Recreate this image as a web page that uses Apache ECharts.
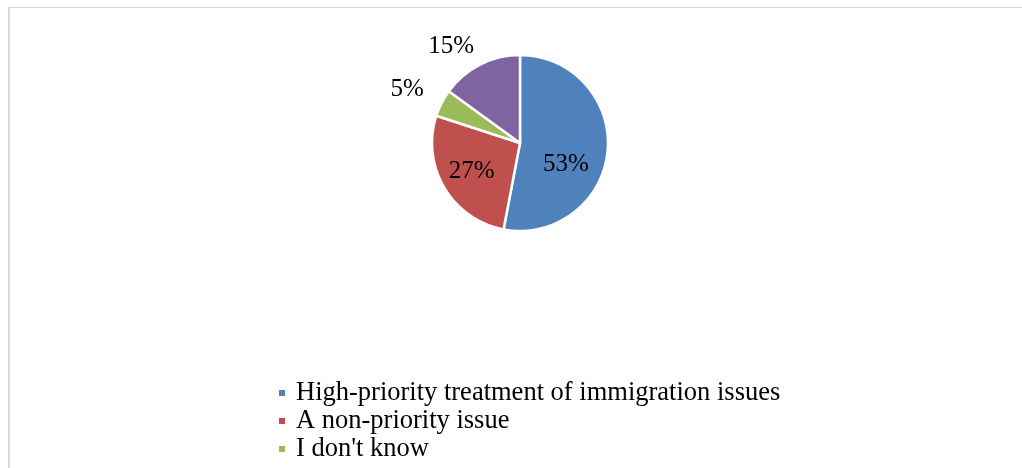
<!DOCTYPE html>
<html>
<head>
<meta charset="utf-8">
<script src="https://cdn.jsdelivr.net/npm/echarts@6/dist/echarts.min.js"></script>
<style>
  html, body { margin: 0; padding: 0; background: #fff; }
  #wrap { position: relative; width: 1022px; height: 468px; overflow: hidden; }
  #frame { position: absolute; left: 8px; top: 7px; width: 1030px; height: 480px;
           border-top: 1px solid #d9d9d9; border-left: 2px solid #d9d9d9; box-sizing: border-box; }
  #chart { position: absolute; left: 0; top: 0; width: 1022px; height: 468px; }
</style>
</head>
<body>
<div id="wrap">
  <div id="frame"></div>
  <div id="chart"></div>
</div>
<script>
const categories = [
  "High-priority treatment of immigration issues",
  "A non-priority issue",
  "I don't know",
  "No answer"
];
const values = [53, 27, 5, 15];
const colors = ["#4F81BD", "#C0504D", "#9BBB59", "#8064A2"];
const labelPlacement = ["inside", "inside", "outside", "outside"];
// legend entries visible in the picture (the fourth is cut off by the frame)
const legendEntries = categories.slice(0, 3);

const font = "'Liberation Serif', 'Times New Roman', serif";
const labelOffsets = [[-1, 17], [-8, 5], [0, -5], [4, 1]];
const lineLengths = [0, 0, 20, 22];

const chart = echarts.init(document.getElementById('chart'), null, { renderer: 'canvas' });
const data = categories.map((name, i) => ({
  name: name,
  value: values[i],
  itemStyle: { color: colors[i] },
  label: {
    position: labelPlacement[i],
    offset: labelOffsets[i]
  },
  labelLine: { show: false, length: lineLengths[i], length2: 0 }
}));

chart.setOption({
  animation: false,
  backgroundColor: 'transparent',
  legend: {
    orient: 'vertical',
    left: 277,
    top: 379,
    height: 400,
    padding: 0,
    icon: 'rect',
    itemWidth: 8,
    itemHeight: 8,
    itemGap: 0,
    selectedMode: false,
    textStyle: {
      fontFamily: font,
      fontSize: 26.5,
      color: '#000',
      lineHeight: 28,
      padding: [0, 0, 0, 5]
    },
    data: legendEntries
  },
  series: [{
    type: 'pie',
    center: [520, 143],
    radius: 88,
    startAngle: 90,
    clockwise: true,
    avoidLabelOverlap: false,
    itemStyle: { borderColor: '#fff', borderWidth: 2.5 },
    label: {
      show: true,
      formatter: '{d}%',
      fontFamily: font,
      fontSize: 25,
      color: '#000',
      distanceToLabelLine: 0
    },
    emphasis: { disabled: true },
    data: data
  }]
});
</script>
</body>
</html>
